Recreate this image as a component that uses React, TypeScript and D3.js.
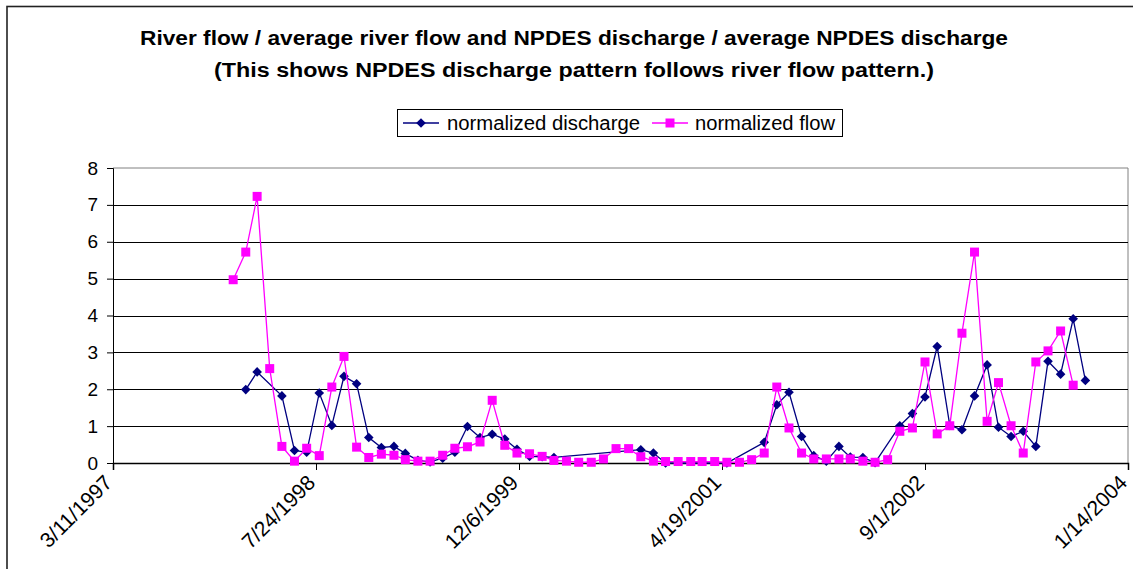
import { useEffect, useRef } from "react";
import * as d3 from "d3";

// monthly samples, Jan 1998 .. Oct 2003
const months = [
  "1998-01-01", "1998-02-01", "1998-03-01", "1998-04-01", "1998-05-01", "1998-06-01",
  "1998-07-01", "1998-08-01", "1998-09-01", "1998-10-01", "1998-11-01", "1998-12-01",
  "1999-01-01", "1999-02-01", "1999-03-01", "1999-04-01", "1999-05-01", "1999-06-01",
  "1999-07-01", "1999-08-01", "1999-09-01", "1999-10-01", "1999-11-01", "1999-12-01",
  "2000-01-01", "2000-02-01", "2000-03-01", "2000-04-01", "2000-05-01", "2000-06-01",
  "2000-07-01", "2000-08-01", "2000-09-01", "2000-10-01", "2000-11-01", "2000-12-01",
  "2001-01-01", "2001-02-01", "2001-03-01", "2001-04-01", "2001-05-01", "2001-06-01",
  "2001-07-01", "2001-08-01", "2001-09-01", "2001-10-01", "2001-11-01", "2001-12-01",
  "2002-01-01", "2002-02-01", "2002-03-01", "2002-04-01", "2002-05-01", "2002-06-01",
  "2002-07-01", "2002-08-01", "2002-09-01", "2002-10-01", "2002-11-01", "2002-12-01",
  "2003-01-01", "2003-02-01", "2003-03-01", "2003-04-01", "2003-05-01", "2003-06-01",
  "2003-07-01", "2003-08-01", "2003-09-01", "2003-10-01",
];

const discharge = [
  null, 1.99, 2.47, null, 1.82, 0.34, 0.29, 1.9, 1.02, 2.35, 2.15, 0.69,
  0.42, 0.45, 0.26, 0.07, 0.03, 0.13, 0.29, 0.99, 0.69, 0.78, 0.65, 0.37,
  0.18, 0.17, 0.15, null, null, null, null, null, null, 0.36, 0.27, 0.0,
  null, null, null, null, 0.0, null, null, 0.56, 1.58, 1.92, 0.72, 0.2,
  0.05, 0.45, 0.16, 0.15, 0.01, null, 1.01, 1.34, 1.79, 3.16, 1.02, 0.9,
  1.82, 2.66, 0.97, 0.72, 0.86, 0.45, 2.76, 2.41, 3.91, 2.24,
];

const flow = [
  4.97, 5.72, 7.23, 2.56, 0.45, 0.05, 0.4, 0.2, 2.06, 2.89, 0.43, 0.15,
  0.24, 0.21, 0.09, 0.05, 0.05, 0.21, 0.4, 0.44, 0.57, 1.7, 0.48, 0.27,
  0.25, 0.18, 0.07, 0.05, 0.02, 0.02, 0.11, 0.39, 0.39, 0.17, 0.05, 0.04,
  0.04, 0.04, 0.04, 0.04, 0.02, 0.02, 0.09, 0.27, 2.06, 0.95, 0.27, 0.11,
  0.11, 0.11, 0.11, 0.05, 0.02, 0.09, 0.86, 0.95, 2.74, 0.79, 1.01, 3.52,
  5.72, 1.13, 2.18, 1.01, 0.27, 2.74, 3.04, 3.58, 2.11, null,
];

const xTicks = ["1997-03-11", "1998-07-24", "1999-12-06", "2001-04-19", "2002-09-01", "2004-01-14"];
const yTicks = [0, 1, 2, 3, 4, 5, 6, 7, 8];
const titleLines = [
  "River flow / average river flow and NPDES discharge / average NPDES discharge",
  "(This shows NPDES discharge pattern follows river flow pattern.)",
];
const seriesNames = ["normalized discharge", "normalized flow"];

const W = 1133;
const H = 569;
const NAVY = "#000080";
const PINK = "#FF00FF";
const FONT = "'Liberation Sans', Arial, sans-serif";

export default function App() {
  const ref = useRef<SVGSVGElement>(null);

  useEffect(() => {
    const svg = d3.select(ref.current);
    svg.selectAll("*").remove();
    const parse = d3.timeParse("%Y-%m-%d");
    const fmt = d3.timeFormat("%-m/%-d/%Y");

    const x = d3
      .scaleTime()
      .domain([parse(xTicks[0])!, parse(xTicks[xTicks.length - 1])!])
      .range([113, 1128]);
    const y = d3.scaleLinear().domain([0, 8]).range([463, 168]);

    svg.append("rect").attr("width", W).attr("height", H).attr("fill", "#fff");
    // outer chart frame (runs off the right / bottom edge)
    svg
      .append("rect")
      .attr("x", 7)
      .attr("y", 6.5)
      .attr("width", W + 20)
      .attr("height", H + 20)
      .attr("fill", "none")
      .attr("stroke", "#222")
      .attr("stroke-width", 1.6);

    // titles
    const tw = [868, 720];
    svg
      .selectAll("text.title")
      .data(titleLines)
      .join("text")
      .attr("class", "title")
      .attr("x", 574)
      .attr("y", (d, i) => 45 + i * 32)
      .attr("text-anchor", "middle")
      .attr("textLength", (d, i) => tw[i])
      .attr("lengthAdjust", "spacingAndGlyphs")
      .style("font-family", FONT)
      .style("font-weight", "bold")
      .style("font-size", "20px")
      .text((d) => d);

    // plot frame + grid
    const g = svg.append("g");
    g.append("line")
      .attr("x1", 113).attr("x2", 1128)
      .attr("y1", y(8)).attr("y2", y(8))
      .attr("stroke", "#808080");
    g.append("line")
      .attr("x1", 1128).attr("x2", 1128)
      .attr("y1", y(8)).attr("y2", y(0))
      .attr("stroke", "#808080");
    g.selectAll("line.grid")
      .data(yTicks.filter((v) => v > 0 && v < 8))
      .join("line")
      .attr("class", "grid")
      .attr("x1", 113).attr("x2", 1128)
      .attr("y1", (d) => Math.round(y(d)) + 0.5)
      .attr("y2", (d) => Math.round(y(d)) + 0.5)
      .attr("stroke", "#000");

    // y axis
    const yAxis = g
      .append("g")
      .attr("transform", "translate(113,0)")
      .call(d3.axisLeft(y).tickValues(yTicks).tickSize(6).tickPadding(9));
    yAxis.select(".domain").attr("stroke", "#000");
    yAxis.selectAll("line").attr("stroke", "#000");
    yAxis
      .selectAll("text")
      .style("font-family", FONT)
      .style("font-size", "19px")
      .attr("fill", "#000");

    // x axis
    const xAxis = g
      .append("g")
      .attr("transform", `translate(0,${y(0)})`)
      .call(
        d3
          .axisBottom(x)
          .tickValues(xTicks.map((s) => parse(s)!))
          .tickSize(7)
          .tickFormat((d) => fmt(d as Date))
      );
    xAxis.select(".domain").attr("stroke", "#000").attr("stroke-width", 1.5);
    xAxis.selectAll("line").attr("stroke", "#000");
    xAxis
      .selectAll("text")
      .attr("y", 0)
      .attr("dy", 0)
      .attr("text-anchor", "end")
      .attr("transform", "translate(0,21) rotate(-45)")
      .style("font-family", FONT)
      .style("font-size", "21px")
      .attr("fill", "#000");

    const pts = (vals: (number | null)[]) =>
      months
        .map((m, i) => ({ d: parse(m)!, v: vals[i] }))
        .filter((p) => p.v !== null) as { d: Date; v: number }[];

    const line = d3
      .line<{ d: Date; v: number }>()
      .x((p) => x(p.d))
      .y((p) => y(p.v));

    const diamond = (cx: number, cy: number, r: number) =>
      `M${cx},${cy - r}L${cx + r},${cy}L${cx},${cy + r}L${cx - r},${cy}Z`;

    const dis = pts(discharge);
    const fl = pts(flow);

    g.append("path")
      .attr("d", line(dis))
      .attr("fill", "none")
      .attr("stroke", NAVY)
      .attr("stroke-width", 1.3);
    g.selectAll("path.dm")
      .data(dis)
      .join("path")
      .attr("class", "dm")
      .attr("d", (p) => diamond(x(p.d), y(p.v), 4.8))
      .attr("fill", NAVY);

    g.append("path")
      .attr("d", line(fl))
      .attr("fill", "none")
      .attr("stroke", PINK)
      .attr("stroke-width", 1.3);
    g.selectAll("rect.sq")
      .data(fl)
      .join("rect")
      .attr("class", "sq")
      .attr("x", (p) => x(p.d) - 4.5)
      .attr("y", (p) => y(p.v) - 4.5)
      .attr("width", 9)
      .attr("height", 9)
      .attr("fill", PINK);

    // legend
    const lg = svg.append("g");
    lg.append("rect")
      .attr("x", 397.5).attr("y", 109.5)
      .attr("width", 445).attr("height", 27)
      .attr("fill", "#fff")
      .attr("stroke", "#000");
    const items = [
      { x0: 403, tx: 447, len: 193, color: NAVY },
      { x0: 652, tx: 695, len: 140, color: PINK },
    ];
    items.forEach((it, i) => {
      lg.append("line")
        .attr("x1", it.x0).attr("x2", it.x0 + 36)
        .attr("y1", 123).attr("y2", 123)
        .attr("stroke", it.color)
        .attr("stroke-width", 1.3);
      if (i === 0) {
        lg.append("path").attr("d", diamond(it.x0 + 18, 123, 4.8)).attr("fill", it.color);
      } else {
        lg.append("rect")
          .attr("x", it.x0 + 18 - 4.5).attr("y", 123 - 4.5)
          .attr("width", 9).attr("height", 9)
          .attr("fill", it.color);
      }
      lg.append("text")
        .attr("x", it.tx)
        .attr("y", 130)
        .attr("textLength", it.len)
        .attr("lengthAdjust", "spacingAndGlyphs")
        .style("font-family", FONT)
        .style("font-size", "20px")
        .text(seriesNames[i]);
    });
  }, []);

  return (
    <div style={{ position: "fixed", left: 0, top: 0 }}>
      <svg ref={ref} width={W} height={H} style={{ display: "block" }} />
    </div>
  );
}
